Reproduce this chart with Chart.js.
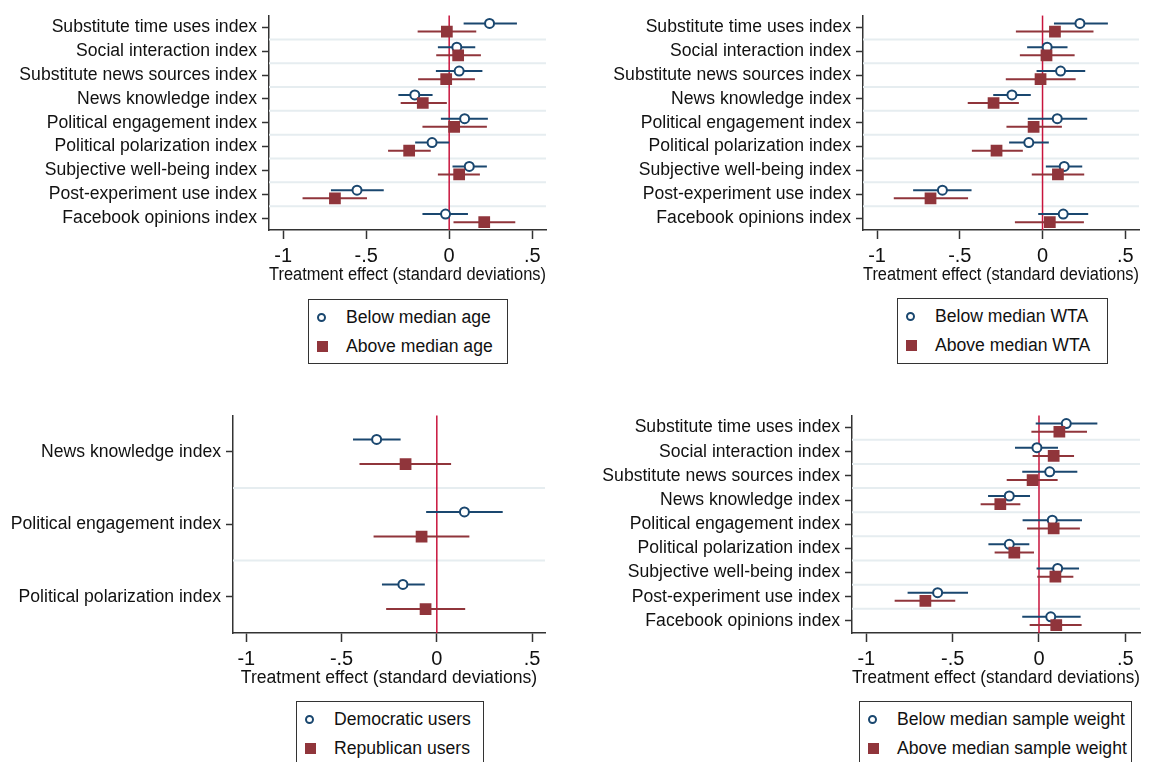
<!DOCTYPE html>
<html>
<head>
<meta charset="utf-8">
<script src="https://cdn.jsdelivr.net/npm/chart.js@4.4.0/dist/chart.umd.min.js"></script>
<style>
body { margin:0; background:#fff; width:1149px; height:762px; overflow:hidden; position:relative; font-family:"Liberation Sans", Arial, sans-serif; }
canvas { position:absolute; }
.legend { position:absolute; border:1px solid #333; background:#fff; font-size:17.6px; color:#111; padding-top:3px; box-sizing:border-box; }
.legend .item { position:relative; height:29px; line-height:29px; padding-left:37px; white-space:nowrap; }
.mk-circle { position:absolute; left:8px; top:10px; width:5px; height:5px; border:2px solid #1a476f; border-radius:50%; }
.mk-square { position:absolute; left:8px; top:9px; width:11px; height:11px; background:#90353b; }
</style>
</head>
<body>
<script>
// outcome indices
const indices9 = ['Substitute time uses index', 'Social interaction index', 'Substitute news sources index',
  'News knowledge index', 'Political engagement index', 'Political polarization index',
  'Subjective well-being index', 'Post-experiment use index', 'Facebook opinions index'];
const indices3 = ['News knowledge index', 'Political engagement index', 'Political polarization index'];

const xTickValues = [-1, -0.5, 0, 0.5];
const xTickLabels = ['-1', '-.5', '0', '.5'];
const xTitle = 'Treatment effect (standard deviations)';

// age split
const ageLabels = ['Below median age', 'Above median age'];
const ageBelowEst = [0.243, 0.046, 0.060, -0.207, 0.093, -0.103, 0.121, -0.555, -0.022];
const ageBelowCI = [[0.087,0.408],[-0.068,0.157],[-0.080,0.200],[-0.306,-0.100],[-0.050,0.233],[-0.205,0.000],[0.020,0.227],[-0.712,-0.394],[-0.161,0.113]];
const ageAboveEst = [-0.014, 0.054, -0.018, -0.159, 0.030, -0.241, 0.060, -0.688, 0.211];
const ageAboveCI = [[-0.190,0.163],[-0.078,0.191],[-0.187,0.155],[-0.292,-0.014],[-0.161,0.227],[-0.368,-0.111],[-0.068,0.185],[-0.883,-0.495],[0.026,0.398]];

// WTA split
const wtaLabels = ['Below median WTA', 'Above median WTA'];
const wtaBelowEst = [0.226, 0.028, 0.109, -0.185, 0.089, -0.083, 0.131, -0.605, 0.125];
const wtaBelowCI = [[0.069,0.395],[-0.093,0.151],[-0.036,0.258],[-0.298,-0.071],[-0.089,0.270],[-0.202,0.038],[0.020,0.240],[-0.782,-0.429],[-0.026,0.276]];
const wtaAboveEst = [0.075, 0.024, -0.012, -0.296, -0.054, -0.278, 0.093, -0.677, 0.044];
const wtaAboveCI = [[-0.161,0.308],[-0.137,0.194],[-0.222,0.200],[-0.452,-0.143],[-0.218,0.117],[-0.427,-0.119],[-0.065,0.252],[-0.899,-0.450],[-0.167,0.250]];

// party split
const partyLabels = ['Democratic users', 'Republican users'];
const demEst = [-0.316, 0.145, -0.178];
const demCI = [[-0.440,-0.190],[-0.056,0.346],[-0.288,-0.063]];
const repEst = [-0.164, -0.080, -0.059];
const repCI = [[-0.406,0.075],[-0.332,0.171],[-0.266,0.149]];

// sample weight split
const weightLabels = ['Below median sample weight', 'Above median sample weight'];
const wBelowEst = [0.158, -0.012, 0.062, -0.172, 0.077, -0.172, 0.108, -0.587, 0.068];
const wBelowCI = [[-0.019,0.338],[-0.139,0.110],[-0.097,0.222],[-0.295,-0.052],[-0.095,0.249],[-0.293,-0.056],[-0.014,0.232],[-0.761,-0.411],[-0.097,0.241]];
const wAboveEst = [0.118, 0.085, -0.037, -0.224, 0.085, -0.143, 0.095, -0.658, 0.100];
const wAboveCI = [[-0.044,0.278],[-0.037,0.203],[-0.187,0.108],[-0.338,-0.108],[-0.069,0.237],[-0.257,-0.029],[-0.010,0.199],[-0.836,-0.485],[-0.054,0.247]];

const NAVY = '#1a476f', MAROON = '#90353b', ZERO = '#c8143c', SEP = '#e6edf0', AXIS = '#333';
const OFF = 0.17;

Chart.defaults.font.family = '"Liberation Sans", Arial, sans-serif';
Chart.defaults.color = '#111';

// separators, zero line and CI spikes
const coefLines = {
  id: 'coefLines',
  beforeDatasetsDraw(chart) {
    const {ctx, chartArea: a, scales: {x, y}} = chart;
    const n = chart.data.datasets[0].data.length;
    ctx.save();
    ctx.strokeStyle = SEP;
    ctx.lineWidth = 2;
    for (let i = 0; i < n - 1; i++) {
      const py = y.getPixelForValue(i + 0.5);
      ctx.beginPath(); ctx.moveTo(a.left, py); ctx.lineTo(a.right, py); ctx.stroke();
    }
    const px0 = x.getPixelForValue(0);
    ctx.strokeStyle = ZERO;
    ctx.lineWidth = 1.5;
    ctx.beginPath(); ctx.moveTo(px0, a.top); ctx.lineTo(px0, a.bottom); ctx.stroke();
    chart.data.datasets.forEach((ds, di) => {
      const meta = chart.getDatasetMeta(di);
      ctx.strokeStyle = ds.ciColor;
      ctx.lineWidth = 2;
      ds.ci.forEach((c, j) => {
        const py = meta.data[j].y;
        ctx.beginPath();
        ctx.moveTo(x.getPixelForValue(c[0]), py);
        ctx.lineTo(x.getPixelForValue(c[1]), py);
        ctx.stroke();
      });
    });
    ctx.restore();
  }
};

function makePanel(p) {
  const cv = document.createElement('canvas');
  cv.width = p.w; cv.height = p.h;
  cv.style.left = p.left + 'px'; cv.style.top = p.top + 'px';
  document.body.appendChild(cv);

  new Chart(cv.getContext('2d'), {
    type: 'scatter',
    data: {
      datasets: [{
        data: p.est1.map((v, i) => ({x: v, y: i - OFF})),
        ci: p.ci1, ciColor: NAVY, order: 1,
        pointStyle: 'circle', pointRadius: 4.5, pointBorderWidth: 2,
        pointBorderColor: NAVY, pointBackgroundColor: '#fff'
      }, {
        data: p.est2.map((v, i) => ({x: v, y: i + OFF})),
        ci: p.ci2, ciColor: MAROON, order: 0,
        pointStyle: 'rect', pointRadius: 8.3, pointBorderWidth: 0,
        pointBackgroundColor: MAROON
      }]
    },
    options: {
      responsive: false,
      animation: false,
      layout: {padding: {top: p.padTop, right: p.padRight, left: 0, bottom: 0}},
      plugins: {legend: {display: false}, tooltip: {enabled: false}},
      scales: {
        x: {
          type: 'linear', position: 'bottom', min: p.xmin, max: p.xmax,
          afterBuildTicks: s => { s.ticks = xTickValues.map(v => ({value: v})); },
          afterFit: s => { s.height = p.xHeight; },
          ticks: {
            font: {size: 20}, padding: 5, maxRotation: 0, color: '#111',
            callback: v => xTickLabels[xTickValues.indexOf(v)]
          },
          grid: {drawOnChartArea: false, tickLength: 9, color: AXIS, tickWidth: 1.5},
          border: {display: true, color: AXIS, width: 1.5},
          title: {display: true, text: xTitle, font: {size: 17.6}, color: '#111', padding: {top: 0, bottom: p.titlePad}}
        },
        y: {
          type: 'linear', reverse: true, min: -0.5, max: p.cats.length - 0.5,
          afterBuildTicks: s => { s.ticks = p.cats.map((c, i) => ({value: i})); },
          afterFit: s => { s.width = p.yWidth; },
          ticks: {
            font: {size: 17.6}, padding: 5, autoSkip: false, color: '#111',
            callback: v => p.cats[v]
          },
          grid: {drawOnChartArea: false, tickLength: 7, color: AXIS, tickWidth: 1.5},
          border: {display: true, color: AXIS, width: 1.5}
        }
      }
    },
    plugins: [coefLines]
  });

  const lg = document.createElement('div');
  lg.className = 'legend';
  lg.style.left = p.lg[0] + 'px'; lg.style.top = p.lg[1] + 'px';
  lg.style.width = p.lg[2] + 'px'; lg.style.height = p.lg[3] + 'px';
  lg.innerHTML =
    '<div class="item"><span class="mk-circle"></span>' + p.labels[0] + '</div>' +
    '<div class="item"><span class="mk-square"></span>' + p.labels[1] + '</div>';
  document.body.appendChild(lg);
}

makePanel({left: 0, top: 0, w: 560, h: 290, padTop: 12, padRight: 14, yWidth: 269, xHeight: 60, titlePad: 4,
  xmin: -1.085, xmax: 0.583, cats: indices9,
  est1: ageBelowEst, ci1: ageBelowCI, est2: ageAboveEst, ci2: ageAboveCI,
  labels: ageLabels, lg: [308, 299, 200, 65]});

makePanel({left: 580, top: 0, w: 569, h: 290, padTop: 12, padRight: 10, yWidth: 283, xHeight: 60, titlePad: 4,
  xmin: -1.085, xmax: 0.583, cats: indices9,
  est1: wtaBelowEst, ci1: wtaBelowCI, est2: wtaAboveEst, ci2: wtaAboveCI,
  labels: wtaLabels, lg: [897, 298, 211, 66]});

makePanel({left: 0, top: 400, w: 560, h: 295, padTop: 15, padRight: 15, yWidth: 233, xHeight: 62, titlePad: 6,
  xmin: -1.07, xmax: 0.568, cats: indices3,
  est1: demEst, ci1: demCI, est2: repEst, ci2: repCI,
  labels: partyLabels, lg: [296, 701, 188, 66]});

makePanel({left: 580, top: 400, w: 569, h: 295, padTop: 15, padRight: 9, yWidth: 272, xHeight: 62, titlePad: 6,
  xmin: -1.083, xmax: 0.585, cats: indices9,
  est1: wBelowEst, ci1: wBelowCI, est2: wAboveEst, ci2: wAboveCI,
  labels: weightLabels, lg: [859, 701, 273, 66]});
</script>
</body>
</html>
